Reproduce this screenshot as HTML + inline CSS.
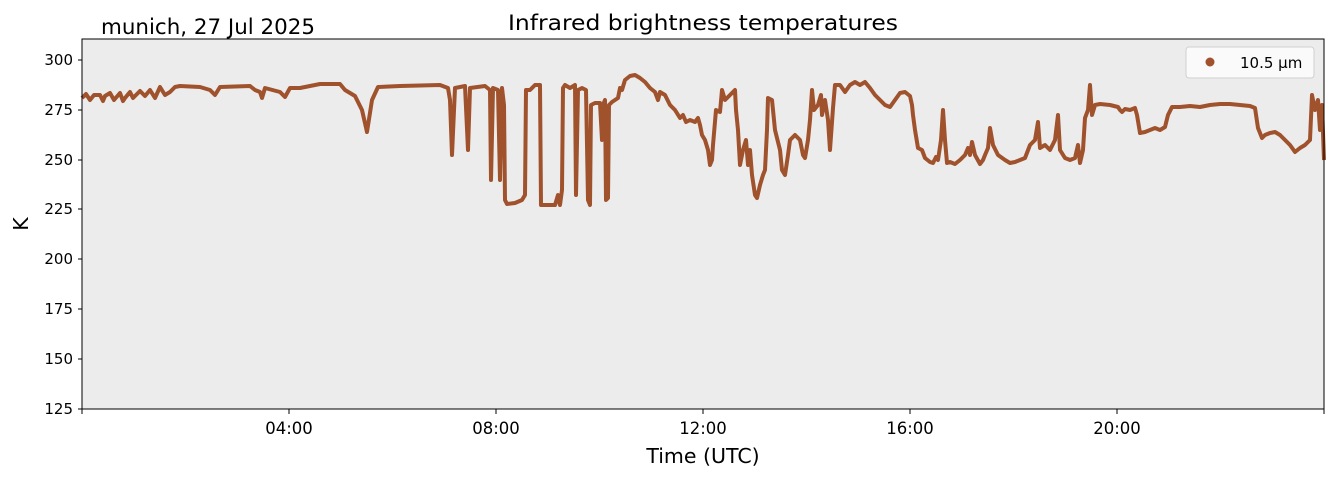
<!DOCTYPE html>
<html><head><meta charset="utf-8"><style>
body{margin:0;background:#fff;}
svg text{font-family:"DejaVu Sans","Liberation Sans",sans-serif;}
</style></head><body>
<svg width="1335" height="478" viewBox="0 0 1335 478" xmlns="http://www.w3.org/2000/svg">
<rect x="82" y="39" width="1242" height="370" fill="#ececec"/>
<text x="101" y="34" font-size="21" textLength="214" lengthAdjust="spacingAndGlyphs" fill="#000">munich, 27 Jul 2025</text>
<text x="508" y="30" font-size="21" textLength="390" lengthAdjust="spacingAndGlyphs" fill="#000">Infrared brightness temperatures</text>
<g stroke="#000" stroke-width="1">
<line x1="78" y1="60" x2="82" y2="60"/><line x1="78" y1="110" x2="82" y2="110"/>
<line x1="78" y1="160" x2="82" y2="160"/><line x1="78" y1="209" x2="82" y2="209"/>
<line x1="78" y1="259" x2="82" y2="259"/><line x1="78" y1="309" x2="82" y2="309"/>
<line x1="78" y1="359" x2="82" y2="359"/><line x1="78" y1="409" x2="82" y2="409"/>
<line x1="289" y1="409" x2="289" y2="414"/><line x1="496" y1="409" x2="496" y2="414"/>
<line x1="703" y1="409" x2="703" y2="414"/><line x1="910" y1="409" x2="910" y2="414"/>
<line x1="1117" y1="409" x2="1117" y2="414"/><line x1="82" y1="409" x2="82" y2="414"/><line x1="1324" y1="409" x2="1324" y2="414"/>
</g>
<g font-size="15" text-anchor="end" fill="#000">
<text x="73" y="65">300</text><text x="73" y="115">275</text><text x="73" y="165">250</text>
<text x="73" y="214">225</text><text x="73" y="264">200</text><text x="73" y="314">175</text>
<text x="73" y="364">150</text><text x="73" y="414">125</text>
</g>
<g font-size="16.5" text-anchor="middle" fill="#000">
<text x="289" y="434">04:00</text><text x="496" y="434">08:00</text><text x="703" y="434">12:00</text>
<text x="910" y="434">16:00</text><text x="1117" y="434">20:00</text>
</g>
<text x="703" y="463" font-size="20.5" text-anchor="middle">Time (UTC)</text>
<text x="28" y="224" font-size="20.5" text-anchor="middle" transform="rotate(-90 28 224)">K</text>
<polyline fill="none" stroke="#a0522d" stroke-width="4" stroke-linejoin="round" points="82,98 86,94 90,100 94,95 100,95 103,101 105,96 110,93 114,100 120,93 123,101 125,98 130,92 133,98 140,91 145,96 150,90 155,98 160,87 165,95 170,92 175,87 180,86 200,87 210,90 215,95 220,87 250,86 255,90 260,92 262,98 265,88 280,92 285,97 290,88 300,88 320,84 340,84 345,90 355,96 362,110 367,132 372,100 378,87 400,86 440,85 448,88 450,100 452,155 455,88 465,86 468,150 470,88 485,86 490,90 491,180 493,88 498,90 500,180 502,88 504,105 505,200 507,204 515,203 522,200 525,195 526,90 530,90 535,85 540,85 541,205 550,205 555,205 558,195 560,205 562,190 563,88 565,85 570,88 575,85 576,195 578,90 582,88 586,90 588,200 590,205 591,105 595,103 600,103 602,140 603,105 605,100 606,200 608,198 609,105 612,102 615,100 618,98 620,88 622,90 625,80 630,76 635,75 640,78 645,82 650,88 655,92 658,100 660,92 665,95 670,105 675,110 680,118 683,115 686,122 690,120 695,122 698,118 700,125 702,135 705,140 708,150 710,165 712,160 713,145 716,110 720,112 722,90 725,100 730,95 735,90 736,110 738,130 740,165 743,150 746,140 748,165 750,150 752,175 755,195 757,198 760,185 763,175 765,170 767,130 768,98 772,100 775,130 780,150 782,170 785,175 788,155 790,140 795,135 800,140 803,155 805,158 808,140 810,120 812,90 814,110 818,105 821,95 822,115 825,100 828,120 830,150 833,108 835,85 840,85 845,92 850,85 855,82 860,85 865,82 870,88 875,95 880,100 885,105 890,107 895,100 900,93 905,92 910,96 912,105 913,115 915,130 918,148 922,150 925,158 930,162 933,163 936,157 938,160 941,140 943,110 945,140 947,163 950,162 955,164 960,160 965,155 968,148 970,155 972,142 975,155 980,164 983,160 985,155 988,148 990,128 993,145 998,155 1005,160 1010,163 1015,162 1020,160 1025,158 1030,145 1035,140 1038,122 1040,148 1045,145 1050,150 1055,140 1058,115 1060,150 1065,158 1070,160 1075,158 1078,145 1080,163 1083,150 1085,118 1088,110 1090,85 1092,115 1095,105 1100,104 1110,105 1118,107 1120,110 1122,112 1125,109 1130,110 1135,108 1137,115 1140,133 1145,132 1150,130 1155,128 1160,130 1165,127 1168,115 1172,107 1180,107 1190,106 1200,107 1210,105 1220,104 1230,104 1250,106 1255,108 1258,128 1262,138 1265,135 1270,133 1275,132 1280,135 1285,140 1290,145 1295,152 1300,148 1305,145 1310,140 1312,95 1315,110 1318,100 1320,130 1322,105 1324,160"/>
<rect x="82" y="39" width="1242" height="370" fill="none" stroke="#000" stroke-width="1"/>
<rect x="1186" y="47" width="128" height="31" rx="3" fill="#fafafa" stroke="#d0d0d0"/>
<circle cx="1210" cy="62" r="4.5" fill="#a0522d"/>
<text x="1240" y="68" font-size="15">10.5 µm</text>
</svg>
</body></html>
